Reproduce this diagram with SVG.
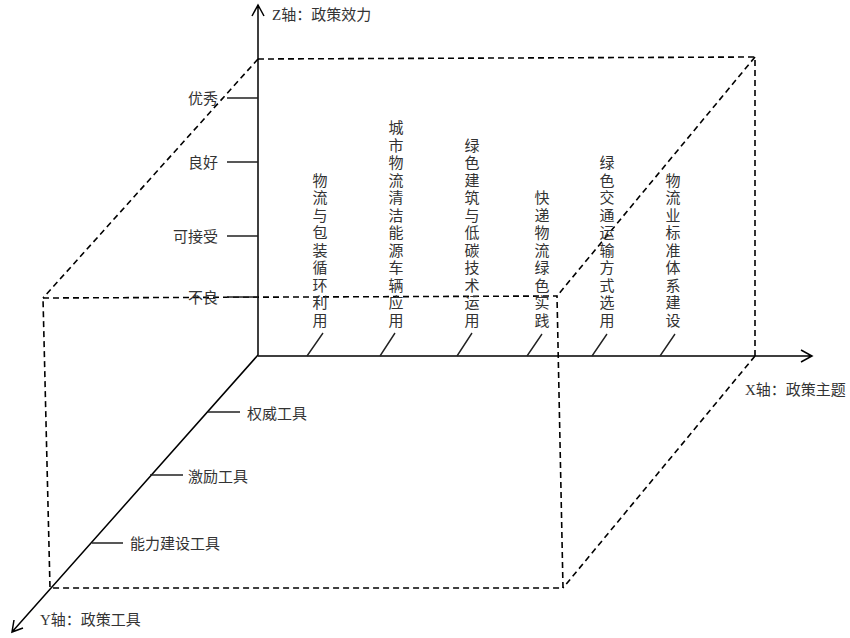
<svg xmlns="http://www.w3.org/2000/svg" width="850" height="638" viewBox="0 0 850 638">
<style>
.ax{stroke:#000;stroke-width:1.5;fill:none}
.dash{stroke:#000;stroke-width:1.6;fill:none;stroke-dasharray:6 4}
.tk{stroke:#222;stroke-width:1.4;fill:none}
text{font-family:"Liberation Serif","Noto Sans CJK SC",serif;font-size:15px;fill:#333}
</style>
<rect width="850" height="638" fill="#fff"/>
<g id="box">
<path class="dash" d="M258 59 L755 57 L755 356"/>
<path class="dash" d="M258 59 L43 298"/>
<path class="dash" d="M755 57 L557 296"/>
<path class="dash" d="M755 356 L563 588"/>
<path class="dash" d="M43 298 L557 296 L563 588 L50 588 L43 298"/>
</g>
<g id="connectors">
<path class="ax" d="M258 355 L258 5 M252 16 L258 5 L264 16"/>
<path class="ax" d="M258 356 L812 356 M801 350 L812 356 L801 362"/>
<path class="ax" d="M258 355 L12 632 M14 620 L12 632 L23 628"/>
<path class="tk" d="M227 98 H258 M227 162 H258 M227 236 H258 M227 297 H258"/>
<path class="tk" d="M208 412 H240 M150 475 H183 M92 543 H123"/>
<path class="tk" d="M307 356 L323 333 M380 356 L395 333 M457 356 L472 333 M527 356 L542 334 M592 356 L607 334 M660 356 L675 334"/>
</g>
<g id="z-axis-label"><text x="272" y="20">Z轴：政策效力</text></g>
<g id="x-axis-label"><text x="745" y="395">X轴：政策主题</text></g>
<g id="y-axis-label"><text x="40" y="625">Y轴：政策工具</text></g>
<g id="z-levels" text-anchor="end">
<text x="218" y="103.5">优秀</text>
<text x="218" y="167.5">良好</text>
<text x="218" y="241.5">可接受</text>
<text x="218" y="302.5">不良</text>
</g>
<g id="y-tools">
<text x="247" y="418.5">权威工具</text>
<text x="188" y="482">激励工具</text>
<text x="130" y="548.5">能力建设工具</text>
</g>
<g id="x-topics" text-anchor="middle">
<text id="t1"><tspan x="320" y="185.5">物</tspan><tspan x="320" dy="17.5">流</tspan><tspan x="320" dy="17.5">与</tspan><tspan x="320" dy="17.5">包</tspan><tspan x="320" dy="17.5">装</tspan><tspan x="320" dy="17.5">循</tspan><tspan x="320" dy="17.5">环</tspan><tspan x="320" dy="17.5">利</tspan><tspan x="320" dy="17.5">用</tspan></text>
<text id="t2"><tspan x="396" y="133">城</tspan><tspan x="396" dy="17.5">市</tspan><tspan x="396" dy="17.5">物</tspan><tspan x="396" dy="17.5">流</tspan><tspan x="396" dy="17.5">清</tspan><tspan x="396" dy="17.5">洁</tspan><tspan x="396" dy="17.5">能</tspan><tspan x="396" dy="17.5">源</tspan><tspan x="396" dy="17.5">车</tspan><tspan x="396" dy="17.5">辆</tspan><tspan x="396" dy="17.5">应</tspan><tspan x="396" dy="17.5">用</tspan></text>
<text id="t3"><tspan x="472" y="150.5">绿</tspan><tspan x="472" dy="17.5">色</tspan><tspan x="472" dy="17.5">建</tspan><tspan x="472" dy="17.5">筑</tspan><tspan x="472" dy="17.5">与</tspan><tspan x="472" dy="17.5">低</tspan><tspan x="472" dy="17.5">碳</tspan><tspan x="472" dy="17.5">技</tspan><tspan x="472" dy="17.5">术</tspan><tspan x="472" dy="17.5">运</tspan><tspan x="472" dy="17.5">用</tspan></text>
<text id="t4"><tspan x="542" y="203">快</tspan><tspan x="542" dy="17.5">递</tspan><tspan x="542" dy="17.5">物</tspan><tspan x="542" dy="17.5">流</tspan><tspan x="542" dy="17.5">绿</tspan><tspan x="542" dy="17.5">色</tspan><tspan x="542" dy="17.5">实</tspan><tspan x="542" dy="17.5">践</tspan></text>
<text id="t5"><tspan x="607" y="168">绿</tspan><tspan x="607" dy="17.5">色</tspan><tspan x="607" dy="17.5">交</tspan><tspan x="607" dy="17.5">通</tspan><tspan x="607" dy="17.5">运</tspan><tspan x="607" dy="17.5">输</tspan><tspan x="607" dy="17.5">方</tspan><tspan x="607" dy="17.5">式</tspan><tspan x="607" dy="17.5">选</tspan><tspan x="607" dy="17.5">用</tspan></text>
<text id="t6"><tspan x="673" y="185.5">物</tspan><tspan x="673" dy="17.5">流</tspan><tspan x="673" dy="17.5">业</tspan><tspan x="673" dy="17.5">标</tspan><tspan x="673" dy="17.5">准</tspan><tspan x="673" dy="17.5">体</tspan><tspan x="673" dy="17.5">系</tspan><tspan x="673" dy="17.5">建</tspan><tspan x="673" dy="17.5">设</tspan></text>
</g>
</svg>
